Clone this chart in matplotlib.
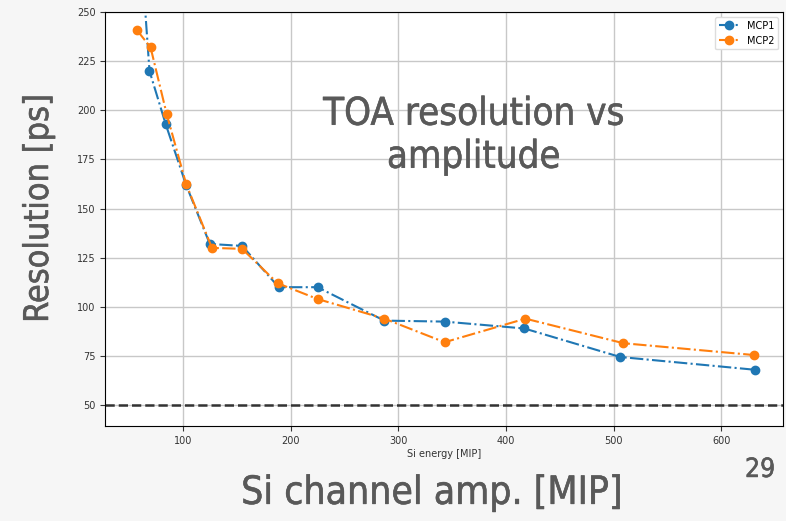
import numpy as np
import matplotlib.pyplot as plt
import matplotlib.patheffects as pe

# Si energy [MIP] and TOA resolution [ps] per MCP reference
mcp1_energy = [60, 69, 84, 103, 125, 155, 189, 225, 287, 343, 417, 506, 631]
mcp1_res = [290, 220, 193, 162, 132, 131, 110, 110, 93, 92.5, 89, 74.5, 68]

mcp2_energy = [57, 70, 85, 103, 127, 155, 188, 225, 287, 343, 418, 509, 630]
mcp2_res = [241, 232, 198, 162.5, 130, 129.5, 112, 104, 94, 82, 94, 81.5, 75.5]

target_res = 50

slide_grey = '#595959'
# medium-weight look: condensed regular with a thin stroke of the same colour
big_font = dict(family='DejaVu Sans', stretch='condensed', color=slide_grey,
                path_effects=[pe.withStroke(linewidth=0.4, foreground=slide_grey)])

fig = plt.figure(figsize=(7.86, 5.21), dpi=100, facecolor='#f6f6f6')
ax = fig.add_axes([0.134, 0.182, 0.862, 0.795])
ax.set_facecolor('white')

ax.plot(mcp1_energy, mcp1_res, 'o-.', color='#1f77b4', lw=1.5, ms=6, label='MCP1')
ax.plot(mcp2_energy, mcp2_res, 'o-.', color='#ff7f0e', lw=1.5, ms=6, label='MCP2')
ax.axhline(target_res, color='#333333', ls='--', lw=1.8)

ax.set_xlim(28, 657)
ax.set_ylim(39.3, 250)
ax.set_xticks([100, 200, 300, 400, 500, 600])
ax.set_yticks([50, 75, 100, 125, 150, 175, 200, 225, 250])
ax.tick_params(labelsize=7, colors='#333333')
ax.grid(True, color='#c8c8c8', lw=1)
ax.set_xlabel('Si energy [MIP]', fontsize=7, color='#333333', labelpad=2)
ax.legend(loc='upper right', fontsize=7, framealpha=1, edgecolor='#dddddd')

ax.text(0.544, 0.70, 'TOA resolution vs\namplitude', transform=ax.transAxes,
        ha='center', va='center', fontsize=27.5, linespacing=1.25, **big_font)

fig.text(0.049, 0.60, 'Resolution [ps]', rotation=90, ha='center', va='center',
         fontsize=24.5, **big_font)
fig.text(0.549, 0.054, 'Si channel amp. [MIP]', ha='center', va='center',
         fontsize=28, **big_font)
fig.text(0.967, 0.098, '29', ha='center', va='center', fontsize=19, **big_font)

fig.savefig('out.png', dpi=100, facecolor=fig.get_facecolor())
